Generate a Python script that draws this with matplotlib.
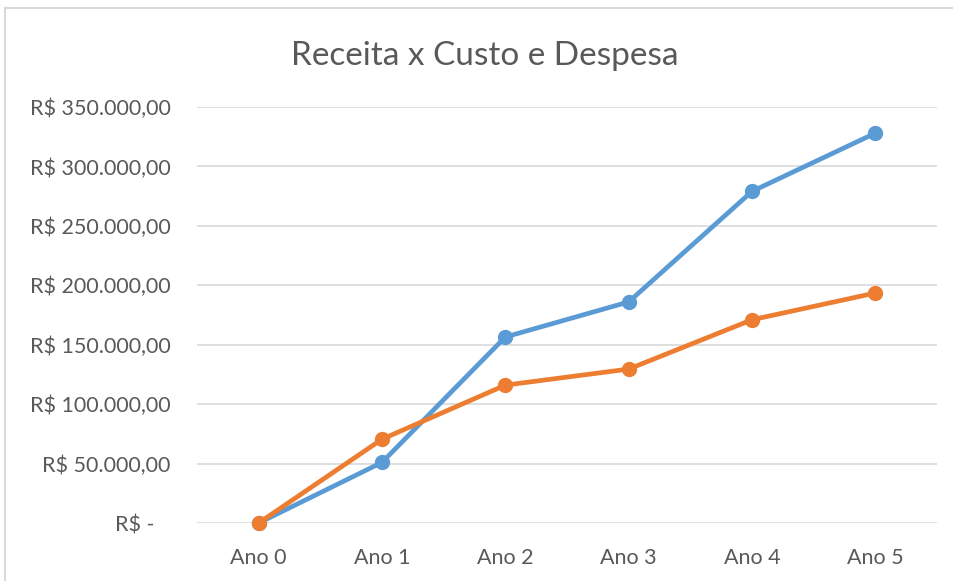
import matplotlib
matplotlib.use("Agg")
import matplotlib.pyplot as plt
from matplotlib.patches import Rectangle
from matplotlib.ticker import FuncFormatter

categories = ["Ano 0", "Ano 1", "Ano 2", "Ano 3", "Ano 4", "Ano 5"]
receita = [0, 51000, 156500, 186000, 279000, 328000]
custo_despesa = [0, 70500, 116000, 129500, 171000, 193500]
yticks = [0, 50000, 100000, 150000, 200000, 250000, 300000, 350000]
title = "Receita x Custo e Despesa"

FONT = "Lato"
TXT = "#595959"
W, H = 954, 581

fig = plt.figure(figsize=(W / 100, H / 100), dpi=100)
ax = fig.add_axes([197 / W, 1 - 523 / H, (937 - 197) / W, (523 - 107) / H])

x = list(range(len(categories)))
ax.plot(x, receita, color="#5B9BD5", lw=3.4, marker="o", ms=10,
        solid_capstyle="round", zorder=3, clip_on=False, label="Receita")
ax.plot(x, custo_despesa, color="#ED7D31", lw=3.4, marker="o", ms=10,
        solid_capstyle="round", zorder=4, clip_on=False, label="Custo e Despesa")

ax.set_xlim(-0.5, len(categories) - 0.5)
ax.set_ylim(0, 350000)
ax.set_yticks(yticks)
ax.set_xticks(x)
ax.set_xticklabels(categories)


def fmt(v, pos):
    if v == 0:
        return "R$ -   "
    s = f"{v:,.2f}".replace(",", "X").replace(".", ",").replace("X", ".")
    return "R$ " + s


ax.yaxis.set_major_formatter(FuncFormatter(fmt))
ax.grid(axis="y", color="#D9D9D9", lw=1.2)
ax.set_axisbelow(True)
for s in ax.spines.values():
    s.set_visible(False)
ax.tick_params(axis="both", length=0, colors=TXT, labelsize=15.5)
ax.tick_params(axis="y", pad=19)
ax.tick_params(axis="x", pad=18)
for lab in ax.get_xticklabels() + ax.get_yticklabels():
    lab.set_fontfamily(FONT)

fig.text(485 / W, 1 - 56 / H, title, ha="center", va="center",
         fontsize=24, color=TXT, family=FONT)

fig.patches.append(Rectangle((5 / W, -0.05), 1.1, 1 - 8 / H + 0.05,
                             transform=fig.transFigure, fill=False,
                             edgecolor="#D9D9D9", lw=1.5))

fig.savefig("out.png", dpi=100)
